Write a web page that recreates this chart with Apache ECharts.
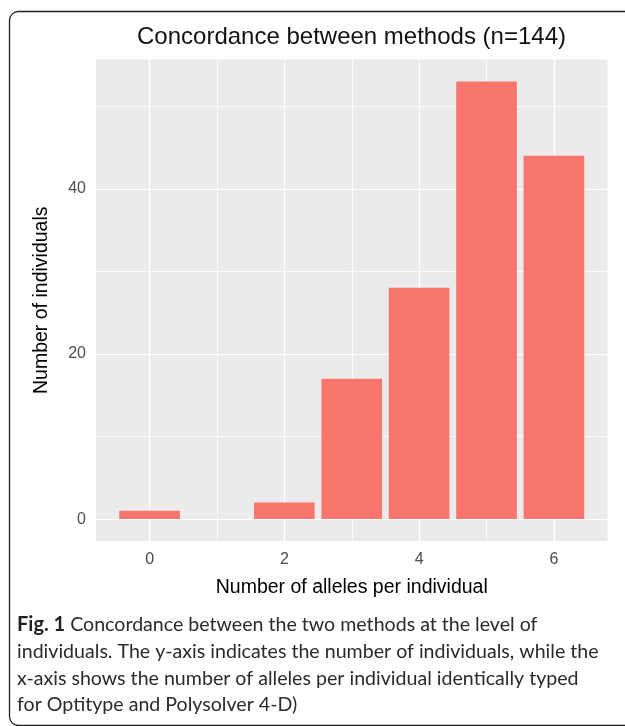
<!DOCTYPE html>
<html><head><meta charset="utf-8">
<script src="https://cdn.jsdelivr.net/npm/echarts@6/dist/echarts.min.js"></script>
<style>html,body{margin:0;padding:0;background:#fff}#c{width:625px;height:726px}</style>
</head><body><div id="c"></div>
<script>
// ---- data ----
const alleles = [0, 1, 2, 3, 4, 5, 6];
const individuals = [1, 0, 2, 17, 28, 53, 44];
const xBreaks = [0, 2, 4, 6];
const xMinorBreaks = [1, 3, 5];
const yBreaks = [0, 20, 40];
const yMinorBreaks = [10, 30, 50];
const chartTitle = 'Concordance between methods (n=144)';
const xTitle = 'Number of alleles per individual';
const yTitle = 'Number of individuals';
const captionLabel = 'Fig. 1';
const captionLines = [
  ' Concordance between the two methods at the level of',
  'individuals. The y-axis indicates the number of individuals, while the',
  'x-axis shows the number of alleles per individual identically typed',
  'for Optitype and Polysolver 4-D)'
];

// ggplot-like expansion (5% of data range)
const barHalf = 0.45;
const xr = [Math.min(...alleles) - barHalf, Math.max(...alleles) + barHalf];
const xpad = (xr[1] - xr[0]) * 0.05;
const ymaxData = Math.max(...individuals);
const ypad = ymaxData * 0.05;

const FONT = 'Liberation Sans, Arial, sans-serif';
const CAPFONT = 'Lato, "Open Sans", sans-serif';
const CAPSIZE = 19.6;

const gridLines = [];
xBreaks.forEach(v => gridLines.push({xAxis: v, lineStyle: {width: 1.2}}));
xMinorBreaks.forEach(v => gridLines.push({xAxis: v, lineStyle: {width: 0.8}}));
yBreaks.forEach(v => gridLines.push({yAxis: v, lineStyle: {width: 1.2}}));
yMinorBreaks.forEach(v => gridLines.push({yAxis: v, lineStyle: {width: 0.8}}));

const chart = echarts.init(document.getElementById('c'), null, {renderer: 'canvas'});

const capElems = [{
  type: 'text', x: 17, y: 625,
  style: {
    text: '{b|' + captionLabel + '}{n|' + captionLines[0] + '}',
    verticalAlign: 'middle',
    rich: {
      b: {fontFamily: CAPFONT, fontSize: CAPSIZE + 0.4, fontWeight: 'bold', fill: '#231f20'},
      n: {fontFamily: CAPFONT, fontSize: CAPSIZE, fill: '#2b2b2b'}
    }
  }
}];
for (let i = 1; i < captionLines.length; i++) {
  capElems.push({
    type: 'text', x: 17, y: 625 + i * 26.7,
    style: {text: captionLines[i], fontFamily: CAPFONT, fontSize: CAPSIZE, fill: '#2b2b2b', verticalAlign: 'middle'}
  });
}

chart.setOption({
  animation: false,
  backgroundColor: '#fff',
  grid: {left: 96, right: 17.5, top: 59.5, bottom: 185, show: true, backgroundColor: '#EBEBEB', borderWidth: 0},
  xAxis: {
    type: 'value', min: xr[0] - xpad, max: xr[1] + xpad,
    axisLine: {show: false},
    splitLine: {show: false},
    axisTick: {show: true, customValues: xBreaks, length: 5, lineStyle: {color: '#333', width: 1}},
    axisLabel: {customValues: xBreaks, color: '#4D4D4D', fontSize: 16, fontFamily: FONT, margin: 11},
    name: xTitle, nameLocation: 'middle', nameGap: 37,
    nameTextStyle: {color: '#000', fontSize: 19.5, fontFamily: FONT}
  },
  yAxis: {
    type: 'value', min: -ypad, max: ymaxData + ypad,
    axisLine: {show: false},
    splitLine: {show: false},
    axisTick: {show: true, customValues: yBreaks, length: 5, lineStyle: {color: '#333', width: 1}},
    axisLabel: {customValues: yBreaks, color: '#4D4D4D', fontSize: 16, fontFamily: FONT, margin: 10},
    name: yTitle, nameLocation: 'middle', nameGap: 44, nameRotate: 90,
    nameTextStyle: {color: '#000', fontSize: 19.5, fontFamily: FONT}
  },
  series: [
    {
      type: 'scatter', data: [], z: 1, silent: true,
      markLine: {silent: true, symbol: 'none', z: 1, label: {show: false},
        lineStyle: {color: '#FFFFFF', type: 'solid', width: 1}, emphasis: {disabled: true},
        data: gridLines}
    },
    {
      type: 'bar', z: 3, barWidth: '90%',
      itemStyle: {color: '#F8766D'},
      data: alleles.map((a, i) => [a, individuals[i]])
    }
  ],
  graphic: [
    {type: 'rect', shape: {x: 9.5, y: 11.5, width: 900, height: 714, r: 9}, style: {fill: 'none', stroke: '#222', lineWidth: 1.3}, z: 0},
    {type: 'text', x: 351.5, y: 37, style: {text: chartTitle, fontFamily: FONT, fontSize: 24, fill: '#111', align: 'center', verticalAlign: 'middle'}},
    ...capElems
  ]
});
</script></body></html>
